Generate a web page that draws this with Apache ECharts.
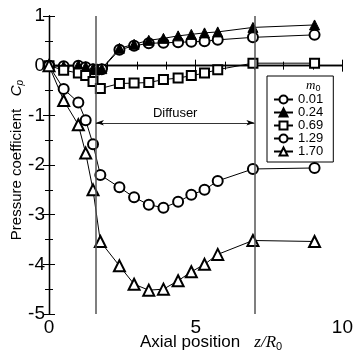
<!DOCTYPE html>
<html>
<head>
<meta charset="utf-8">
<script src="https://cdn.jsdelivr.net/npm/echarts@6/dist/echarts.min.js"></script>
<style>
  html, body { margin: 0; padding: 0; background: #fff; }
  #chart { width: 356px; height: 351px; }
</style>
</head>
<body>
<div id="chart"></div>
<script>
// 测点位置 z/R0
const zPosA = [0, 0.5, 1.0, 1.25, 1.5, 1.65, 1.8, 2.4, 2.9, 3.4, 3.9, 4.4, 4.85, 5.3, 5.75, 6.95, 9.05];
const zPosB = [0, 0.5, 1.0, 1.25, 1.5, 1.75, 2.4, 2.9, 3.4, 3.9, 4.4, 4.85, 5.3, 5.75, 6.95, 9.05];

// Cp 数值
const cp001 = [0, -0.01, 0, -0.03, -0.07, -0.08, -0.07, 0.32, 0.40, 0.45, 0.46, 0.47, 0.48, 0.49, 0.52, 0.57, 0.62];
const cp024 = [0, -0.01, 0.01, -0.02, -0.06, -0.07, -0.06, 0.35, 0.43, 0.51, 0.55, 0.60, 0.63, 0.66, 0.68, 0.77, 0.82];
const cp069 = [0, -0.09, -0.15, -0.2, -0.32, -0.46, -0.36, -0.35, -0.34, -0.28, -0.25, -0.2, -0.15, -0.08, 0.05, 0.05];
const cp129 = [0, -0.47, -0.74, -1.1, -1.58, -2.2, -2.45, -2.65, -2.8, -2.86, -2.74, -2.6, -2.5, -2.32, -2.08, -2.06];
const cp170 = [0, -0.7, -1.19, -1.76, -2.5, -3.54, -4.03, -4.4, -4.52, -4.5, -4.33, -4.15, -4.0, -3.8, -3.52, -3.54];

const seriesNames = ['0.01', '0.24', '0.69', '1.29', '1.70'];

// 扩压段位置
const diffuserStart = 1.6;
const diffuserEnd = 7.0;
const diffuserArrowCp = -1.15;

const zip = (xs, ys) => xs.map((x, i) => [x, ys[i]]);

const chart = echarts.init(document.getElementById('chart'), null, { renderer: 'canvas' });

const baseLine = {
  type: 'line',
  animation: false,
  lineStyle: { color: '#000', width: 1 },
  itemStyle: { color: '#000', borderColor: '#000', borderWidth: 1 },
};

const axisCommon = {
  axisLine: { show: true, lineStyle: { color: '#000', width: 1.3 } },
  splitLine: { show: false },
};

const options = {
  animation: false,
  grid: { left: 49, top: 16, width: 296, height: 298, containLabel: false },
  xAxis: [
    {
      ...axisCommon,
      type: 'value',
      min: 0,
      max: 10,
      interval: 5,
      axisTick: { inside: true, length: 6, lineStyle: { color: '#000' } },
      minorTick: { show: true, splitNumber: 5, length: 4, lineStyle: { color: '#000' } },
      axisLabel: { color: '#000', fontSize: 19, margin: 4, fontFamily: 'Liberation Sans' },
    },
    {
      ...axisCommon,
      type: 'value',
      position: 'top',
      min: 0,
      max: 10,
      interval: 5,
      axisTick: { inside: true, length: 6, lineStyle: { color: '#000' } },
      minorTick: { show: true, splitNumber: 5, length: 4, lineStyle: { color: '#000' } },
      axisLabel: { show: false },
    },
  ],
  yAxis: [
    {
      ...axisCommon,
      type: 'value',
      min: -5,
      max: 1,
      interval: 1,
      axisTick: { inside: true, length: 6, lineStyle: { color: '#000' } },
      minorTick: { show: true, splitNumber: 2, length: 4, lineStyle: { color: '#000' } },
      axisLabel: { color: '#000', fontSize: 19, margin: 4, fontFamily: 'Liberation Sans' },
    },
    {
      ...axisCommon,
      type: 'value',
      position: 'right',
      min: -5,
      max: 1,
      interval: 1,
      axisTick: { inside: true, length: 6, lineStyle: { color: '#000' } },
      minorTick: { show: true, splitNumber: 2, length: 4, lineStyle: { color: '#000' } },
      axisLabel: { show: false },
    },
  ],
  legend: {
    data: seriesNames,
    orient: 'vertical',
    left: 267,
    top: 76,
    padding: [17, 10, 4, 6],
    itemGap: 0,
    itemWidth: 19,
    itemHeight: 10,
    backgroundColor: '#fff',
    borderColor: '#000',
    borderWidth: 1,
    textStyle: { color: '#000', fontSize: 13, lineHeight: 12, fontFamily: 'Liberation Sans' },
  },
  graphic: [
    {
      type: 'text',
      z: 100,
      left: 306,
      top: 79,
      style: {
        text: '{i|m}{s|0}',
        rich: {
          i: { fontSize: 13, fontStyle: 'italic', fontFamily: 'Liberation Serif', fill: '#000' },
          s: { fontSize: 9, fontFamily: 'Liberation Sans', fill: '#000', padding: [6, 0, 0, 0] },
        },
      },
    },
    {
      type: 'text',
      left: 140,
      top: 334,
      style: {
        text: 'Axial position   {i|z/R}{s|0}',
        font: '17px "Liberation Sans"',
        fill: '#000',
        rich: {
          i: { fontSize: 17, fontStyle: 'italic', fontFamily: 'Liberation Serif', fill: '#000' },
          s: { fontSize: 11, fontFamily: 'Liberation Sans', fill: '#000', padding: [8, 0, 0, 0] },
        },
      },
    },
    {
      type: 'text',
      x: 17,
      y: 160,
      rotation: Math.PI / 2,
      style: {
        text: 'Pressure coefficient   {i|C}{s|p}',
        font: '15px "Liberation Sans"',
        fill: '#000',
        align: 'center',
        verticalAlign: 'middle',
        rich: {
          i: { fontSize: 15, fontStyle: 'italic', fontFamily: 'Liberation Sans', fill: '#000' },
          s: { fontSize: 10, fontStyle: 'italic', fontFamily: 'Liberation Sans', fill: '#000', padding: [7, 0, 0, 0] },
        },
      },
    },
  ],
  series: [
    {
      ...baseLine,
      name: '0.01',
      symbol: 'emptyCircle',
      symbolSize: 10,
      data: zip(zPosA, cp001),
      markLine: {
        silent: true,
        symbol: 'none',
        animation: false,
        lineStyle: { color: '#555', width: 1.5, type: 'solid' },
        label: { show: false },
        data: [{ xAxis: diffuserStart }, { xAxis: diffuserEnd }],
      },
    },
    {
      ...baseLine,
      name: '0.24',
      symbol: 'triangle',
      symbolSize: 10,
      data: zip(zPosA, cp024),
    },
    {
      ...baseLine,
      name: '0.69',
      symbol: 'emptyRect',
      symbolSize: 9,
      data: zip(zPosB, cp069),
      markLine: {
        silent: true,
        symbol: ['arrow', 'arrow'],
        symbolSize: [4, 8],
        animation: false,
        lineStyle: { color: '#000', width: 0.8, type: 'solid' },
        label: {
          show: true,
          position: 'middle',
          formatter: 'Diffuser',
          color: '#000',
          fontSize: 13,
          fontFamily: 'Liberation Sans',
          distance: 3,
        },
        data: [[{ coord: [diffuserStart, diffuserArrowCp] }, { coord: [diffuserEnd, diffuserArrowCp] }]],
      },
    },
    {
      ...baseLine,
      name: '1.29',
      symbol: 'emptyCircle',
      symbolSize: 10,
      data: zip(zPosB, cp129),
    },
    {
      ...baseLine,
      name: '1.70',
      symbol: 'emptyTriangle',
      symbolSize: 11,
      data: zip(zPosB, cp170),
    },
  ],
};

chart.setOption(options);
</script>
</body>
</html>
